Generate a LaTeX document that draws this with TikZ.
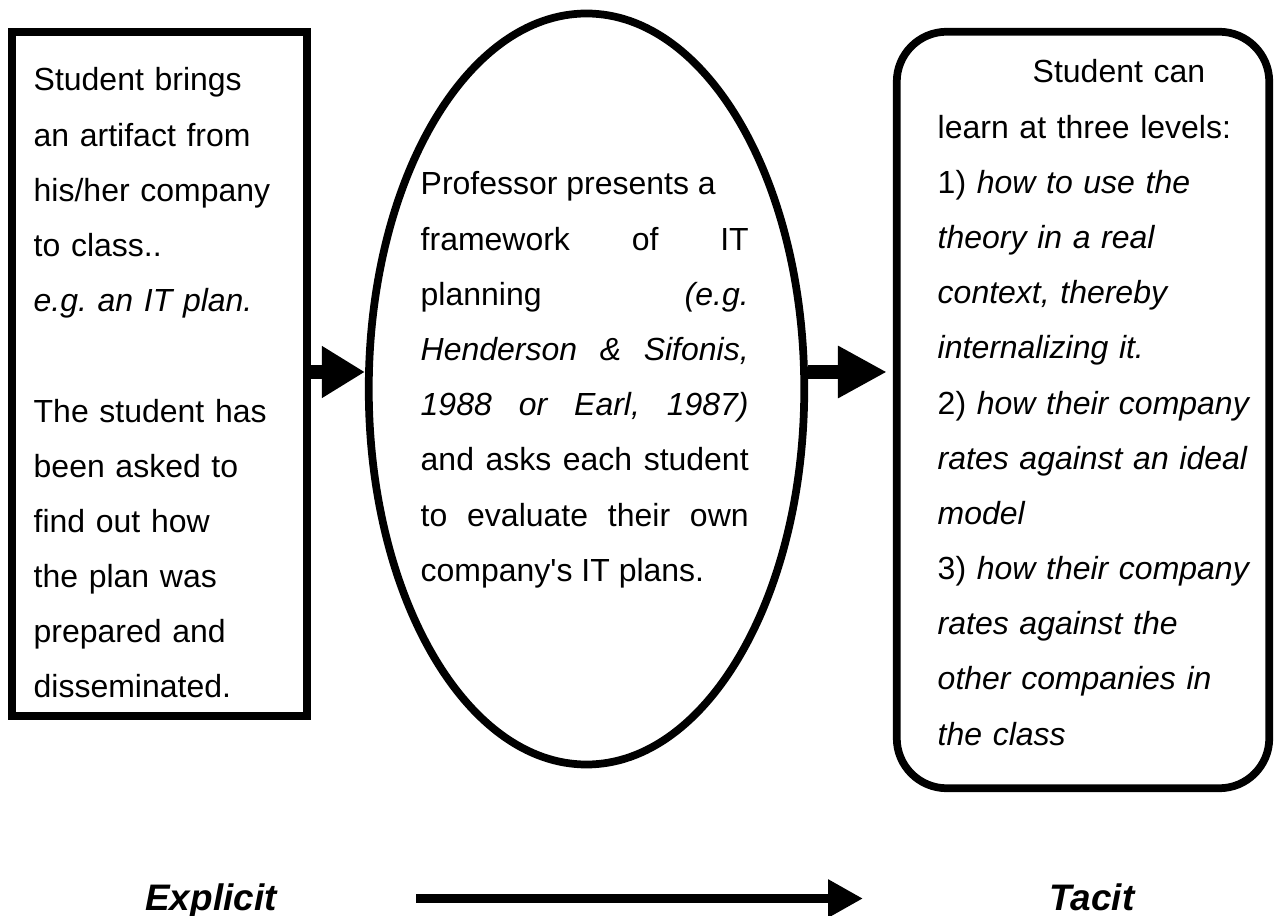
\documentclass[tikz,border=0pt]{standalone}
\usepackage{fontspec}
\setmainfont{Liberation Sans}
\usetikzlibrary{shapes.geometric,arrows.meta}
\frenchspacing

\begin{document}
\begin{tikzpicture}[
	frame/.style={draw, line width=2.2pt, inner sep=0pt},
	body/.style={inner sep=0pt, anchor=base west, font=\fontsize{9.1pt}{15.7pt}\selectfont},
	push/.style={line width=0.14cm, -{Triangle[length=#1, width=4.9mm]}},
	tag/.style={inner sep=0pt, anchor=base, font=\fontsize{10.5pt}{12pt}\selectfont\bfseries\itshape}
]

	\useasboundingbox (0,0) rectangle (12.77,9.15);

	\node[frame, minimum width=2.95cm, minimum height=6.84cm] (artifact) at (1.595,5.41) {};
	\node[frame, ellipse, minimum width=4.355cm, minimum height=7.51cm] (prof) at (5.865,5.26) {};
	\node[frame, rounded corners=0.5cm, minimum width=3.725cm, minimum height=7.565cm] (levels) at (10.83,5.05) {};

	\node[body, text width=2.6cm, align=left] (artifacttext) at (0.33,8.24)
		{Student brings\\ an artifact from\\ his/her company\\ to class..\\ \textit{e.g. an IT plan.}\\[15.7pt]
		The student has\\ been asked to\\ find out how\\ the plan was\\ prepared and\\ disseminated.};

	\node[body, text width=3.28cm, align=justify] (proftext) at (4.20,7.20)
		{Professor presents a\newline framework of IT\linebreak planning \textit{(e.g.\linebreak
		Henderson \& Sifonis,\linebreak 1988 or Earl, 1987)}\linebreak and asks each student\linebreak
		to evaluate their own\linebreak company\textquotesingle s IT plans.};

	\node[body, text width=3.3cm, align=left] (levelstext) at (9.37,8.32)
		{\hspace*{0.95cm}Student can\\ learn at three levels:\\ 1) \textit{how to use the}\\ \textit{theory in a real}\\
		\textit{context, thereby}\\ \textit{internalizing it.}\\ 2) \textit{how their company}\\
		\textit{rates against an ideal}\\ \textit{model}\\ 3) \textit{how their company}\\
		\textit{rates against the}\\ \textit{other companies in}\\ \textit{the class}};

	\coordinate (row) at (0,5.43);
	\draw[push=4.3mm] (artifact.east |- row) -- (prof.west |- row);
	\draw[push=4.9mm] (prof.east |- row) -- ([xshift=-0.06cm]levels.west |- row);

	\node[tag] (explicit) at (2.11,0.05) {Explicit};
	\node[tag] (tacit) at (10.92,0.05) {Tacit};
	\coordinate (from) at (4.16,0.165);
	\coordinate (to) at (8.63,0.165);
	\draw[line width=0.09cm, -{Triangle[length=3.5mm, width=3.6mm]}] (from) -- (to);

\end{tikzpicture}
\end{document}
